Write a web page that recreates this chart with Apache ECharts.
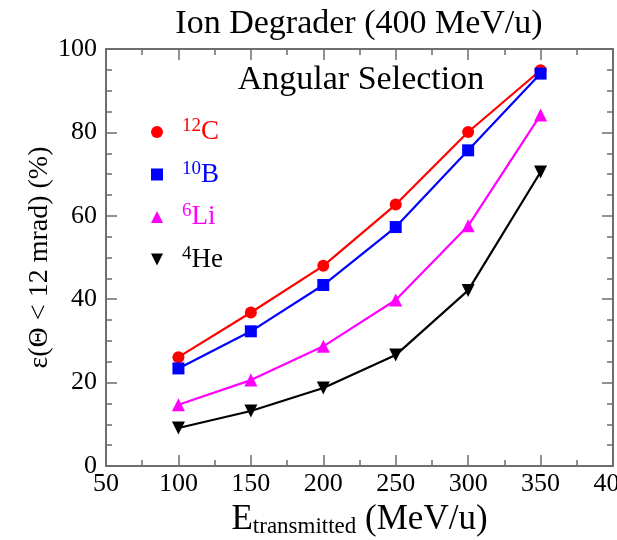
<!DOCTYPE html>
<html>
<head>
<meta charset="utf-8">
<script src="https://cdn.jsdelivr.net/npm/echarts@6/dist/echarts.min.js"></script>
<style>html,body{margin:0;padding:0;background:#fff}#c{width:617px;height:540px}</style>
</head>
<body>
<div id="c"></div>
<script>
const energies = [100, 150, 200, 250, 300, 350];
const carbon12 = [26.1, 36.8, 48.0, 62.7, 80.1, 94.9];
const boron10 = [23.4, 32.3, 43.4, 57.3, 75.7, 94.1];
const lithium6 = [14.7, 20.6, 28.7, 39.8, 57.6, 84.2];
const helium4 = [9.1, 13.2, 18.7, 26.6, 42.1, 70.5];
const xTicks = [50, 100, 150, 200, 250, 300, 350, 400];
const yTicks = [0, 20, 40, 60, 80, 100];

const SERIF = '"Liberation Serif", "DejaVu Serif", serif';
const AX = '#6e6e6e';

function pairs(vals) { return energies.map((e, i) => [e, vals[i]]); }

const legendLabels = {
  '12C': '{rs|12}{rt|C}',
  '10B': '{bs|10}{bt|B}',
  '6Li': '{ms|6}{mt|Li}',
  '4He': '{ks|4}{kt|He}'
};
function supStyle(c) { return {fontFamily: SERIF, fontSize: 19, color: c, verticalAlign: 'top', lineHeight: 17, padding: [0, 0, 0, 14]}; }
function mainStyle(c) { return {fontFamily: SERIF, fontSize: 27, color: c, lineHeight: 30}; }

const series = [
  {name: '12C', vals: carbon12, color: '#ff0000', symbol: 'circle', size: 12, rot: 0},
  {name: '10B', vals: boron10, color: '#0000ff', symbol: 'rect', size: 12, rot: 0},
  {name: '6Li', vals: lithium6, color: '#ff00ff', symbol: 'triangle', size: 13, rot: 0},
  {name: '4He', vals: helium4, color: '#000000', symbol: 'triangle', size: 13, rot: 180}
];

const chart = echarts.init(document.getElementById('c'), null, {renderer: 'canvas'});

function axisCommon() {
  return {
    axisLine: {show: true, onZero: false, lineStyle: {color: AX, width: 2}},
    axisTick: {show: true, inside: true, length: 11, lineStyle: {color: AX, width: 1.5}},
    minorTick: {show: true, length: 6, lineStyle: {color: AX, width: 1.5}},
    splitLine: {show: false}
  };
}

const option = {
  animation: false,
  backgroundColor: '#ffffff',
  grid: {left: 106, right: 4, top: 49, bottom: 74, containLabel: false, outerBoundsMode: 'none'},
  graphic: [
    {type: 'text', x: 359, y: 24, style: {text: 'Ion Degrader (400 MeV/u)', font: '34px ' + SERIF, fill: '#000', textAlign: 'center', textVerticalAlign: 'middle'}},
    {type: 'text', x: 361, y: 80, style: {text: 'Angular Selection', font: '34px ' + SERIF, fill: '#000', textAlign: 'center', textVerticalAlign: 'middle'}}
  ],
  legend: {
    orient: 'vertical',
    left: 146,
    top: 112,
    itemWidth: 12,
    itemHeight: 12,
    itemGap: 14,
    selectedMode: false,
    data: series.map(s => ({name: s.name, icon: s.symbol === 'triangle' && s.rot ? 'path://M0,0 L10,0 L5,10 Z' : s.symbol, itemStyle: {color: s.color}})),
    formatter: name => legendLabels[name],
    textStyle: {
      rich: {
        rs: supStyle('#ff0000'), rt: mainStyle('#ff0000'),
        bs: supStyle('#0000ff'), bt: mainStyle('#0000ff'),
        ms: supStyle('#ff00ff'), mt: mainStyle('#ff00ff'),
        ks: supStyle('#000000'), kt: mainStyle('#000000')
      }
    }
  },
  xAxis: [
    Object.assign(axisCommon(), {
      type: 'value', min: 50, max: 400, interval: 50,
      minorTick: {show: true, splitNumber: 2, length: 6, lineStyle: {color: AX, width: 1.5}},
      axisLabel: {fontFamily: SERIF, fontSize: 26, color: '#000', margin: 5, formatter: v => xTicks.includes(v) ? String(v) : ''},
      name: '{e|E}{s|transmitted}{n| (MeV/u)}',
      nameLocation: 'middle', nameGap: 32,
      nameTextStyle: {rich: {
        e: {fontFamily: SERIF, fontSize: 35, color: '#000', lineHeight: 38},
        s: {fontFamily: SERIF, fontSize: 23, color: '#000', verticalAlign: 'bottom', lineHeight: 14},
        n: {fontFamily: SERIF, fontSize: 35, color: '#000', lineHeight: 38}
      }}
    }),
    Object.assign(axisCommon(), {
      type: 'value', position: 'top', min: 50, max: 400, interval: 50,
      minorTick: {show: true, splitNumber: 2, length: 6, lineStyle: {color: AX, width: 1.5}},
      axisLabel: {show: false}
    })
  ],
  yAxis: [
    Object.assign(axisCommon(), {
      type: 'value', min: 0, max: 100, interval: 20,
      minorTick: {show: true, splitNumber: 4, length: 6, lineStyle: {color: AX, width: 1.5}},
      axisLabel: {fontFamily: SERIF, fontSize: 26, color: '#000', margin: 9, formatter: v => yTicks.includes(v) ? String(v) : ''},
      name: 'ε(Θ < 12 mrad) (%)',
      nameLocation: 'middle', nameGap: 52, nameRotate: 90, nameMoveOverlap: false,
      nameTextStyle: {fontFamily: SERIF, fontSize: 28, color: '#000'}
    }),
    Object.assign(axisCommon(), {
      type: 'value', position: 'right', min: 0, max: 100, interval: 20,
      minorTick: {show: true, splitNumber: 4, length: 6, lineStyle: {color: AX, width: 1.5}},
      axisLabel: {show: false}
    })
  ],
  series: series.map(s => ({
    name: s.name,
    type: 'line',
    xAxisIndex: 0, yAxisIndex: 0,
    data: pairs(s.vals),
    symbol: s.symbol,
    symbolSize: s.size,
    symbolRotate: s.rot,
    showAllSymbol: true,
    lineStyle: {color: s.color, width: 2.2},
    itemStyle: {color: s.color, borderWidth: 0},
    emphasis: {disabled: true}
  }))
};
chart.setOption(option);
</script>
</body>
</html>
